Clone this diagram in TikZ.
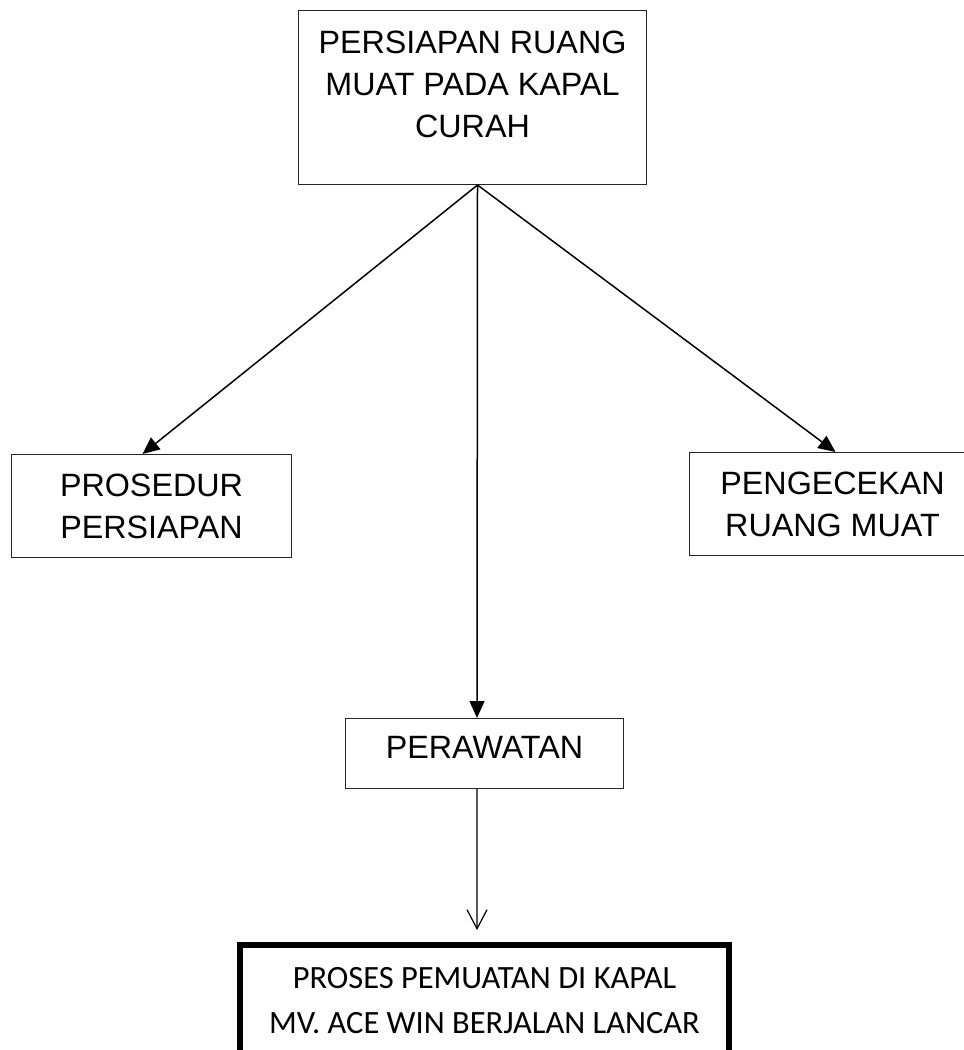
\documentclass[tikz,border=0pt]{standalone}
\usepackage{fontspec}
\setmainfont{Liberation Sans}
\newfontfamily\calibrifont{Carlito}
\usetikzlibrary{arrows.meta}

\begin{document}
\begin{tikzpicture}[x=1bp, y=-1bp,
	box/.style={rectangle, draw=black!85, line width=1bp, inner sep=0pt, align=center, font=\fontsize{32.4pt}{42pt}\selectfont}]

\clip (0,0) rectangle (964,1050);

\node at (298,10) [box, minimum height = 174bp, minimum width = 348bp, anchor=north west] (ruang) {};
\node [below, inner sep=0pt, align=center, font=\fontsize{32.4pt}{42pt}\selectfont] at ([yshift=-21bp]ruang.north) {PERSIAPAN RUANG\\MUAT PADA KAPAL\\CURAH};

\node at (11,454) [box, minimum height = 103bp, minimum width = 280bp, anchor=north west] (prosedur) {PROSEDUR\\PERSIAPAN};
\node at (689,452) [box, minimum height = 103bp, minimum width = 286bp, anchor=north west] (cek) {PENGECEKAN\\RUANG MUAT};

\node at (345,718) [box, minimum height = 70bp, minimum width = 278bp, anchor=north west] (rawat) {};
\node [inner sep=0pt, font=\fontsize{32.4pt}{42pt}\selectfont] at ([yshift=6bp]rawat.center) {PERAWATAN};

\node at (237,942) [rectangle, draw=black, line width=6bp, minimum height = 200bp, minimum width = 489bp, anchor=north west] (hasil) {};
\node [below, inner sep=0pt, align=center, font=\calibrifont\fontsize{32.6pt}{45pt}\selectfont] at ([yshift=-25bp]hasil.north) {PROSES PEMUATAN DI KAPAL\\MV. ACE WIN BERJALAN LANCAR};

\begin{scope}[line width=1.5bp, -{Triangle[length=17bp, width=15bp]}]
	\draw ([xshift=5bp]ruang.south) -- ([xshift=-9bp]prosedur.north) ;
	\draw ([xshift=5bp]ruang.south) -- ([xshift=3bp]cek.north) ;
	\draw ([xshift=5bp]ruang.south) -- ([xshift=-7.5bp]rawat.north) ;
\end{scope}
\draw [line width=1.2bp, -{Straight Barb[length=19bp, width=20bp]}] ([xshift=-7.5bp]rawat.south) -- ([xshift=-7.5bp, yshift=12bp]hasil.north) ;

\end{tikzpicture}
\end{document}
